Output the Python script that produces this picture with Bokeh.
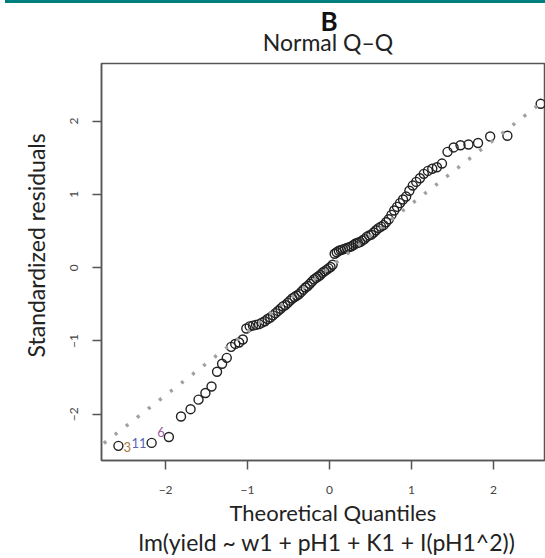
from bokeh.plotting import figure
from bokeh.models import (ColumnDataSource, Range1d, FixedTicker, LinearAxis,
                          Slope, Title, Div)
from bokeh.layouts import column
from bokeh.embed import file_html
from bokeh.resources import INLINE
from bokeh.core.properties import value

# ---- data -------------------------------------------------------------
theoretical = [
    -2.5758, -2.1701, -1.9600, -1.8119, -1.6954, -1.5982, -1.5141, -1.4395, -1.3722, -1.3106,
    -1.2536, -1.2004, -1.1503, -1.1031, -1.0581, -1.0152, -0.9741, -0.9346, -0.8965, -0.8596,
    -0.8239, -0.7892, -0.7554, -0.7225, -0.6903, -0.6588, -0.6280, -0.5978, -0.5681, -0.5388,
    -0.5101, -0.4817, -0.4538, -0.4261, -0.3989, -0.3719, -0.3451, -0.3186, -0.2924, -0.2663,
    -0.2404, -0.2147, -0.1891, -0.1637, -0.1383, -0.1130, -0.0878, -0.0627, -0.0376, -0.0125,
    0.0125, 0.0376, 0.0627, 0.0878, 0.1130, 0.1383, 0.1637, 0.1891, 0.2147, 0.2404,
    0.2663, 0.2924, 0.3186, 0.3451, 0.3719, 0.3989, 0.4261, 0.4538, 0.4817, 0.5101,
    0.5388, 0.5681, 0.5978, 0.6280, 0.6588, 0.6903, 0.7225, 0.7554, 0.7892, 0.8239,
    0.8596, 0.8965, 0.9346, 0.9741, 1.0152, 1.0581, 1.1031, 1.1503, 1.2004, 1.2536,
    1.3106, 1.3722, 1.4395, 1.5141, 1.5982, 1.6954, 1.8119, 1.9600, 2.1701, 2.5758,
]
std_resid = [
    -2.43, -2.39, -2.31, -2.03, -1.93, -1.80, -1.71, -1.62, -1.42, -1.31,
    -1.23, -1.08, -1.04, -1.02, -0.98, -0.83, -0.80, -0.79, -0.78, -0.77,
    -0.75, -0.73, -0.70, -0.68, -0.65, -0.62, -0.59, -0.56, -0.53, -0.51,
    -0.48, -0.45, -0.42, -0.40, -0.38, -0.36, -0.33, -0.30, -0.27, -0.25,
    -0.22, -0.19, -0.16, -0.14, -0.12, -0.10, -0.07, -0.05, -0.03, -0.01,
    0.01, 0.04, 0.19, 0.21, 0.23, 0.24, 0.25, 0.26, 0.27, 0.28,
    0.29, 0.31, 0.33, 0.34, 0.35, 0.37, 0.39, 0.42, 0.44, 0.45,
    0.48, 0.51, 0.54, 0.56, 0.58, 0.62, 0.66, 0.72, 0.78, 0.83,
    0.88, 0.93, 0.97, 1.05, 1.12, 1.17, 1.22, 1.28, 1.32, 1.35,
    1.37, 1.42, 1.58, 1.64, 1.67, 1.68, 1.70, 1.79, 1.80, 2.235,
]
label_index = [0, 1, 2]
label_text = ["3", "11", "6"]
qq_intercept = 0.0
qq_slope = 0.87
x_ticks = [-2, -1, 0, 1, 2]
y_ticks = [-2, -1, 0, 1, 2]
tick_text = {-2: "\u22122", -1: "\u22121", 0: "0", 1: "1", 2: "2"}

panel_letter = "B"
plot_title = "Normal Q\u2013Q"
x_title = "Theoretical Quantiles"
y_title = "Standardized residuals"
model_title = "lm(yield ~ w1 + pH1 + K1 + I(pH1^2))"

FONT = "Lato"
AXIS_COL = "#555555"
TEXT_COL = "#222222"

# ---- header (teal rule, panel letter, title) -----------------------------
HEADER_H = 56
header_html = (
    '<div style="position:relative;width:545px;height:%dpx;margin:0;padding:0;">'
    '<div style="position:absolute;left:0;top:0;width:545px;height:6px;background:#007f7f;"></div>'
    '<div style="position:absolute;left:224px;top:14px;width:200px;height:20px;text-align:center;'
    'font-family:Lato;font-weight:bold;font-size:26px;line-height:20px;color:#111111;">%s</div>'
    '<div style="position:absolute;left:223px;top:36px;width:200px;height:18px;text-align:center;'
    'font-family:Lato;font-weight:normal;font-size:23px;line-height:18px;color:%s;">%s</div>'
    '</div>'
) % (HEADER_H, panel_letter, TEXT_COL, plot_title)
header = Div(text=header_html, width=545, height=HEADER_H)

# ---- figure -----------------------------------------------------------
p = figure(width=545, height=558 - HEADER_H,
           x_range=Range1d(-2.782, 2.635), y_range=Range1d(-2.63, 2.785),
           output_backend="svg", toolbar_location=None,
           min_border_left=101, min_border_right=0,
           min_border_top=5, min_border_bottom=100,
           x_axis_location=None, y_axis_location=None)
p.grid.visible = False
p.outline_line_color = AXIS_COL
p.outline_line_width = 1.5
p.background_fill_color = "white"
p.border_fill_color = "white"

def style_axis(ax, ticks):
    ax.ticker = FixedTicker(ticks=ticks)
    ax.major_label_overrides = tick_text
    ax.axis_line_color = AXIS_COL
    ax.axis_line_width = 1.5
    ax.major_tick_line_color = AXIS_COL
    ax.major_tick_line_width = 1.5
    ax.major_tick_out = 9
    ax.major_tick_in = 0
    ax.minor_tick_line_color = None
    ax.major_label_text_font = FONT
    ax.major_label_text_font_size = "12px"
    ax.major_label_text_color = "#444444"

xaxis = LinearAxis()
style_axis(xaxis, x_ticks)
xaxis.major_label_standoff = 16
p.add_layout(xaxis, "below")

yaxis = LinearAxis()
style_axis(yaxis, y_ticks)
yaxis.major_label_orientation = "vertical"
yaxis.major_label_standoff = 14
p.add_layout(yaxis, "left")

# axis titles (align left + offset so that they sit where the reference has them)
p.add_layout(Title(text=x_title, align="left", offset=128,
                   text_font=FONT, text_font_size="22px",
                   text_font_style="normal", text_color=TEXT_COL, standoff=0), "below")
p.add_layout(Title(text=model_title, align="left", offset=37,
                   text_font=FONT, text_font_size="23px",
                   text_font_style="normal", text_color=TEXT_COL, standoff=0), "below")
p.add_layout(Title(text=y_title, align="left", offset=103,
                   text_font=FONT, text_font_size="23px",
                   text_font_style="normal", text_color=TEXT_COL, standoff=36), "left")

# reference line
p.add_layout(Slope(gradient=qq_slope, y_intercept=qq_intercept,
                   line_color="#a0a0a0", line_width=3.5, line_dash="3 11"))

# points
src = ColumnDataSource(dict(x=theoretical, y=std_resid))
p.scatter("x", "y", source=src, marker="circle", size=9,
          fill_color=None, line_color="#222222", line_width=1.4)

# labels of the three extreme points
lab = ColumnDataSource(dict(
    x=[theoretical[i] for i in label_index],
    y=[std_resid[i] for i in label_index],
    t=label_text,
    align=["left", "right", "right"],
    dx=[5, -5, -4],
    dy=[1, 0, -5],
    col=["#a8783f", "#5a64b4", "#9a5aa0"],
))
p.text("x", "y", text="t", source=lab, x_offset="dx", y_offset="dy",
       text_align="align", text_baseline="middle", text_color="col",
       text_font=value(FONT), text_font_size="13px")

layout = column(header, p, spacing=0, styles={"margin-top": "-8px"})

open("out.html", "w").write(file_html(layout, INLINE))
